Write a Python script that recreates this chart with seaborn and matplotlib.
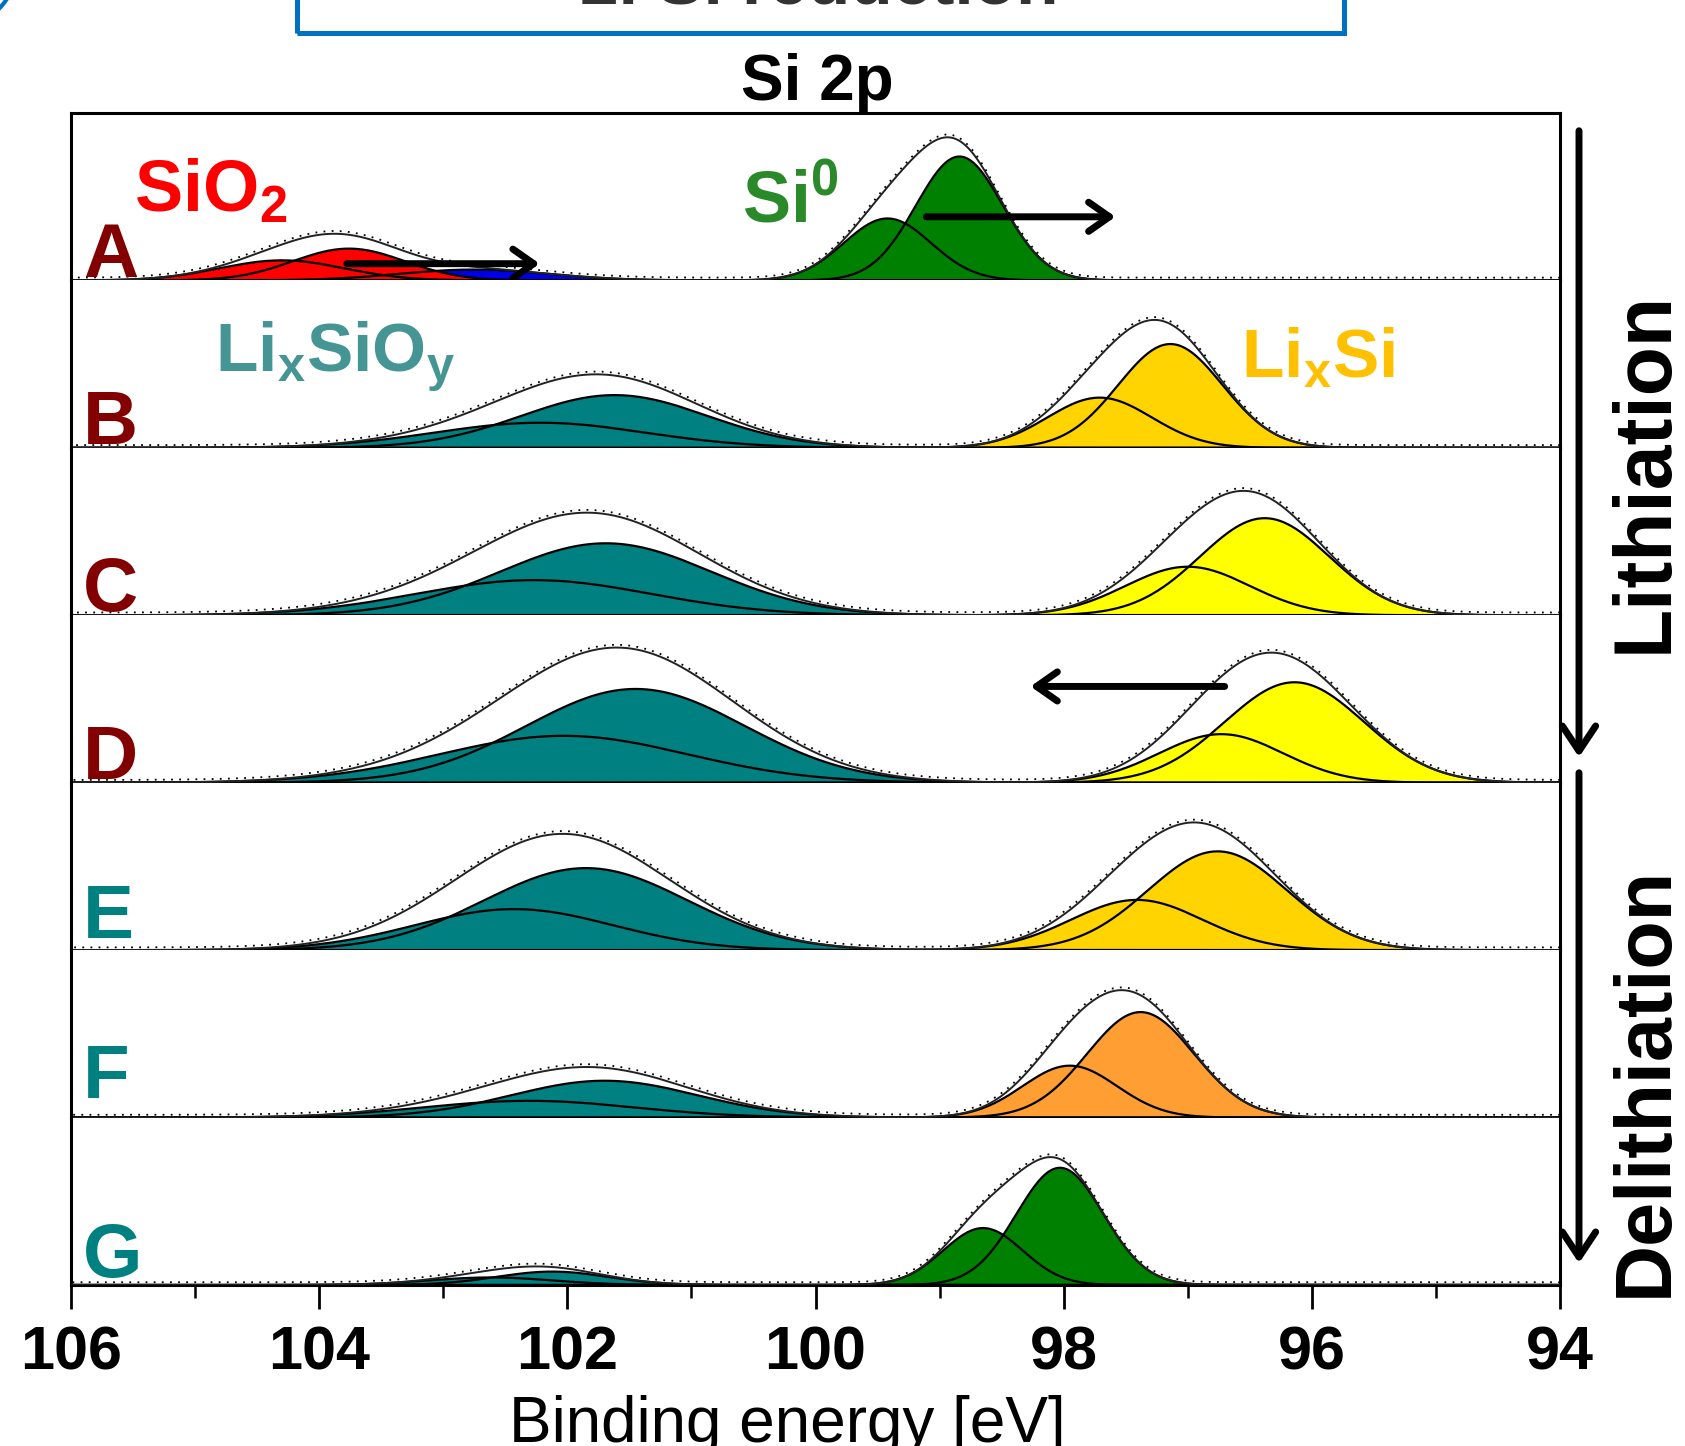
import numpy as np
import pandas as pd
import matplotlib
matplotlib.use('Agg')
import matplotlib.pyplot as plt
import seaborn as sns
from matplotlib import transforms
from matplotlib.patches import FancyArrowPatch, Rectangle, Ellipse

sns.set_theme(style='white')
plt.rcParams['font.family'] = ['Liberation Sans', 'DejaVu Sans']
plt.rcParams['mathtext.fontset'] = 'custom'
plt.rcParams['mathtext.rm'] = 'Liberation Sans'
plt.rcParams['mathtext.bf'] = 'Liberation Sans:bold'
plt.rcParams['text.color'] = 'black'
plt.rcParams['xtick.color'] = 'black'
plt.rcParams['xtick.labelcolor'] = 'black'

# panels (top to bottom) and their letter colours
panels = ['A', 'B', 'C', 'D', 'E', 'F', 'G']
panel_label_colors = ['#820000'] * 4 + ['#008080'] * 3

# fitted Si 2p components:
# panel, fill colour, centre [eV], height (fraction of panel), sigma [eV]
comp_panel = ['A', 'A', 'A', 'A', 'A',
              'B', 'B', 'B', 'B',
              'C', 'C', 'C', 'C',
              'D', 'D', 'D', 'D',
              'E', 'E', 'E', 'E',
              'F', 'F', 'F', 'F',
              'G', 'G', 'G', 'G']
comp_color = ['#0000E6', '#FF0000', '#FF0000', '#008000', '#008000',
              '#008080', '#008080', '#FFD400', '#FFD400',
              '#008080', '#008080', '#FFFF00', '#FFFF00',
              '#008080', '#008080', '#FFFF00', '#FFFF00',
              '#008080', '#008080', '#FFD400', '#FFD400',
              '#008080', '#008080', '#FF9F33', '#FF9F33',
              '#008080', '#008080', '#008000', '#008000']
comp_center = [102.75, 104.30, 103.76, 99.42, 98.84,
               102.22, 101.62, 97.71, 97.14,
               102.27, 101.69, 97.00, 96.38,
               102.03, 101.45, 96.73, 96.14,
               102.43, 101.85, 97.41, 96.76,
               102.31, 101.70, 97.95, 97.38,
               102.62, 102.12, 98.65, 98.03]
comp_height = [0.065, 0.12, 0.19, 0.37, 0.74,
               0.15, 0.315, 0.30, 0.62,
               0.21, 0.43, 0.29, 0.58,
               0.28, 0.56, 0.29, 0.60,
               0.245, 0.49, 0.30, 0.59,
               0.10, 0.22, 0.31, 0.63,
               0.045, 0.08, 0.34, 0.70]
comp_sigma = [0.60, 0.50, 0.45, 0.35, 0.35,
              0.85, 0.75, 0.42, 0.42,
              0.95, 0.85, 0.50, 0.52,
              1.00, 0.88, 0.50, 0.56,
              0.80, 0.82, 0.53, 0.56,
              0.85, 0.75, 0.38, 0.43,
              0.50, 0.45, 0.32, 0.35]

x_ticks = [106, 104, 102, 100, 98, 96, 94]

# build curves
energy = np.linspace(106, 94, 800)
rows = []
for i, p in enumerate(comp_panel):
    y = comp_height[i] * np.exp(-(energy - comp_center[i]) ** 2 / (2 * comp_sigma[i] ** 2))
    rows.append(pd.DataFrame({'panel': p, 'comp': i, 'color': comp_color[i],
                              'energy': energy, 'intensity': y}))
df = pd.concat(rows, ignore_index=True)
env = df.groupby(['panel', 'energy'], as_index=False)['intensity'].sum()

fig = plt.figure(figsize=(16.85, 14.46), dpi=100)
gs = fig.add_gridspec(7, 1, left=71/1685, right=1560/1685,
                      top=1-113/1446, bottom=1-1285/1446, hspace=0)
axes = [fig.add_subplot(gs[i]) for i in range(7)]

label_y = [0.02, 0.025, 0.025, 0.025, 0.075, 0.115, 0.05]
for i, (ax, p) in enumerate(zip(axes, panels)):
    sub = df[df['panel'] == p]
    for c, g in sub.groupby('comp', sort=True):
        ax.fill_between(g['energy'], 0, g['intensity'], color=g['color'].iloc[0],
                        lw=0, zorder=1)
    sns.lineplot(data=sub, x='energy', y='intensity', units='comp', estimator=None,
                 color='black', lw=1.6, ax=ax, legend=False, zorder=2)
    e = env[env['panel'] == p]
    ax.plot(e['energy'], e['intensity'], color='#222222', lw=1.4, zorder=3)
    dots = transforms.offset_copy(ax.transData, fig=fig, x=0, y=2, units='points')
    ax.plot(e['energy'], e['intensity'], color='black', lw=1.3,
            ls=(0, (1, 3.5)), transform=dots, zorder=3)
    ax.set_xlim(106, 94)
    ax.set_ylim(0, 1)
    ax.set_yticks([])
    ax.set_ylabel(None)
    ax.set_xlabel(None)
    for s in ax.spines.values():
        s.set_linewidth(2.2)
        s.set_color('black')
    if i > 0:
        ax.spines['top'].set_visible(False)
    ax.text(0.008, label_y[i], p, transform=ax.transAxes, fontsize=55,
            fontweight='bold', color=panel_label_colors[i], ha='left', va='baseline')
    if i < 6:
        ax.set_xticks([])

axes[3].spines['bottom'].set_linestyle((0, (3, 1.5)))

bx = axes[-1]
bx.set_xticks(x_ticks)
bx.set_xticks(np.arange(94, 107, 1), minor=True)
bx.set_xticklabels([str(t) for t in x_ticks], fontsize=44, fontweight='bold')
bx.tick_params(axis='x', which='major', direction='out', length=17, width=2,
               pad=12, bottom=True, color='black')
bx.tick_params(axis='x', which='minor', direction='out', length=9.5, width=1.8,
               bottom=True, color='black')

# species labels
axes[0].text(105.49, 0.41, r'$\mathbf{SiO_2}$', fontsize=52, color='#FF0000', va='baseline')
axes[0].text(100.59, 0.35, r'$\mathbf{Si^0}$', fontsize=52, color='#2A8A2A', va='baseline')
axes[1].text(104.84, 0.46, r'$\mathbf{Li_xSiO_y}$', fontsize=50, color='#459595', va='baseline')
axes[1].text(96.57, 0.42, r'$\mathbf{Li_xSi}$', fontsize=50, color='#FFC000', va='baseline')

# shift arrows
arrow_kw = dict(arrowstyle='->,head_length=0.5,head_width=0.35', lw=5, color='black',
                mutation_scale=30, zorder=5)
for ax, (x0, x1, yy) in [(axes[0], (103.80, 102.20, 0.10)),
                         (axes[0], (99.13, 97.56, 0.38)),
                         (axes[3], (96.68, 98.29, 0.575))]:
    ax.add_patch(FancyArrowPatch((x0, yy), (x1, yy), **arrow_kw))

# lithiation / delithiation arrows
side_kw = dict(arrowstyle='->,head_length=0.6,head_width=0.4', lw=5, color='black',
               mutation_scale=30, transform=fig.transFigure)
fig.patches.append(FancyArrowPatch((1579/1685, 1-128/1446), (1579/1685, 1-760/1446), **side_kw))
fig.patches.append(FancyArrowPatch((1579/1685, 1-770/1446), (1579/1685, 1-1266/1446), **side_kw))
fig.text(1646/1685, 1-472/1446, 'Lithiation', rotation=90, fontsize=58,
         fontweight='bold', ha='center', va='center')
fig.text(1646/1685, 1-1081/1446, 'Delithiation', rotation=90, fontsize=57,
         fontweight='bold', ha='center', va='center')

# titles
fig.text(817/1685, 1-100/1446, 'Si 2p', fontsize=46, fontweight='bold',
         ha='center', va='baseline')
fig.text(787/1685, 1-1442/1446, 'Binding energy [eV]', fontsize=46,
         ha='center', va='baseline')

# partly visible header box
fig.patches.append(Rectangle((297/1685, 1-33/1446), 1047/1685, 60/1446, fill=False,
                             ec='#0070C0', lw=3.6, transform=fig.transFigure))
fig.text(819/1685, 1-3/1446, '2. Si reduction', fontsize=50, fontweight='bold',
         color='#333333', ha='center', va='baseline')
fig.patches.append(Ellipse((-45/1685, 1+35/1446), 124/1685, 124/1446, fill=False,
                           ec='#0070C0', lw=3, transform=fig.transFigure))

fig.savefig('out.png', dpi=100)
